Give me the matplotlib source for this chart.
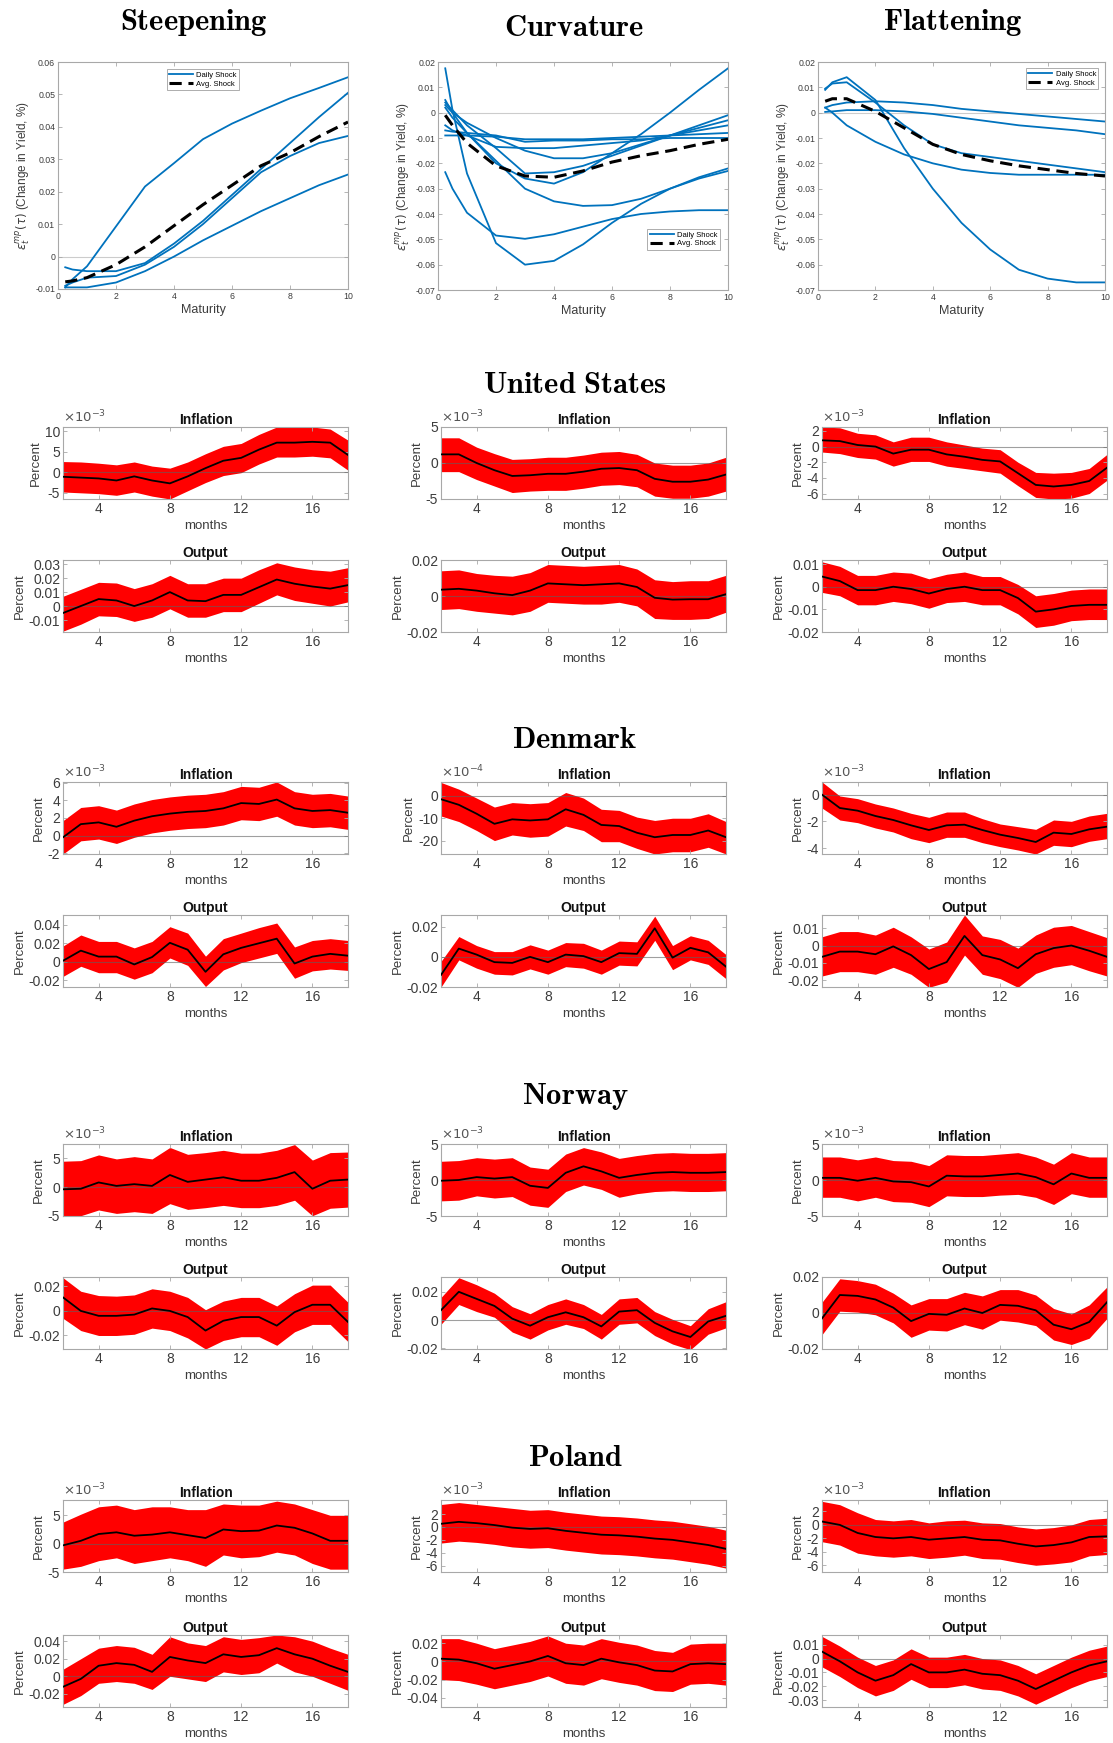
import numpy as np
import matplotlib.pyplot as plt
from matplotlib.ticker import FuncFormatter

plt.rcParams['font.family'] = ['Liberation Sans', 'DejaVu Sans']

W, H = 1113, 1743

# ---------------- yield curve shocks ----------------
maturity = [0.25, 0.5, 1, 2, 3, 4, 5, 6, 7, 8, 9, 10]

steep_daily = [
    [-0.0095, -0.007, -0.003, 0.0093, 0.0216, 0.0288, 0.0362, 0.041, 0.045, 0.0488, 0.052, 0.0553],
    [-0.0033, -0.004, -0.0045, -0.0045, -0.002, 0.004, 0.011, 0.019, 0.027, 0.035, 0.043, 0.0505],
    [-0.009, -0.008, -0.0065, -0.006, -0.0025, 0.003, 0.010, 0.018, 0.026, 0.031, 0.035, 0.0372],
    [-0.0095, -0.0095, -0.0095, -0.008, -0.0045, 0.0, 0.005, 0.0095, 0.014, 0.018, 0.022, 0.0253],
]
steep_avg = [-0.0078, -0.0075, -0.0065, -0.0025, 0.003, 0.0095, 0.016, 0.022, 0.028, 0.032, 0.037, 0.0415]

curv_daily = [
    [0.0175, 0.001, -0.024, -0.0515, -0.060, -0.0585, -0.052, -0.0435, -0.036, -0.030, -0.0255, -0.022],
    [-0.0235, -0.030, -0.0395, -0.0485, -0.0498, -0.048, -0.045, -0.042, -0.040, -0.039, -0.0385, -0.0385],
    [0.005, 0.0, -0.008, -0.020, -0.026, -0.028, -0.0235, -0.016, -0.0085, 0.0, 0.009, 0.0175],
    [0.002, -0.002, -0.008, -0.019, -0.030, -0.035, -0.0368, -0.0365, -0.034, -0.030, -0.026, -0.023],
    [0.004, 0.001, -0.005, -0.014, -0.024, -0.0235, -0.021, -0.017, -0.013, -0.009, -0.006, -0.003],
    [0.003, 0.0, -0.004, -0.010, -0.015, -0.018, -0.018, -0.016, -0.0125, -0.009, -0.005, -0.001],
    [-0.005, -0.007, -0.009, -0.0135, -0.014, -0.014, -0.013, -0.012, -0.011, -0.009, -0.007, -0.005],
    [-0.009, -0.009, -0.009, -0.0095, -0.0105, -0.0105, -0.0105, -0.010, -0.0095, -0.009, -0.0085, -0.008],
    [-0.007, -0.0075, -0.008, -0.009, -0.0115, -0.011, -0.011, -0.0105, -0.0105, -0.010, -0.010, -0.010],
]
curv_avg = [-0.001, -0.005, -0.012, -0.021, -0.025, -0.0255, -0.023, -0.0195, -0.017, -0.015, -0.0125, -0.0105]

flat_daily = [
    [0.009, 0.012, 0.014, 0.005, -0.014, -0.030, -0.0435, -0.054, -0.062, -0.0655, -0.067, -0.067],
    [0.0095, 0.0115, 0.012, 0.004, -0.005, -0.0125, -0.016, -0.0175, -0.019, -0.0205, -0.022, -0.0235],
    [0.002, 0.0, -0.005, -0.0115, -0.0165, -0.020, -0.0225, -0.0238, -0.0245, -0.0245, -0.0245, -0.0245],
    [0.002, 0.003, 0.004, 0.0045, 0.004, 0.003, 0.0015, 0.0005, -0.0005, -0.0015, -0.0025, -0.0035],
    [0.0003, 0.0005, 0.001, 0.001, 0.0005, -0.0005, -0.002, -0.0035, -0.005, -0.006, -0.007, -0.0085],
]
flat_avg = [0.0045, 0.0055, 0.0055, 0.0005, -0.006, -0.0125, -0.0165, -0.019, -0.021, -0.0225, -0.024, -0.025]

# ---------------- impulse responses (months 2..18) ----------------
months = np.arange(2, 19)

# United States
us_steep_inf_med = np.array([-1.1, -1.3, -1.5, -2.0, -1.0, -2.0, -2.7, -1.0, 1.0, 2.8, 3.5, 5.5, 7.2, 7.2, 7.4, 7.2, 4.2]) * 1e-3
us_steep_inf_hi = np.array([2.6, 2.5, 2.2, 1.8, 2.5, 1.5, 1.0, 2.5, 4.5, 6.3, 7.0, 9.2, 11.0, 11.0, 11.0, 10.5, 7.8]) * 1e-3
us_steep_inf_lo = np.array([-4.8, -5.0, -5.2, -5.6, -4.8, -5.8, -6.5, -4.5, -2.5, -0.8, -0.1, 2.0, 3.7, 3.7, 3.9, 3.5, 0.5]) * 1e-3
us_steep_out_med = [-0.005, 0.0, 0.005, 0.004, 0.0, 0.004, 0.010, 0.004, 0.0035, 0.008, 0.008, 0.0135, 0.019, 0.016, 0.014, 0.0125, 0.015]
us_steep_out_hi = [0.007, 0.012, 0.017, 0.0165, 0.0125, 0.016, 0.022, 0.016, 0.016, 0.020, 0.020, 0.026, 0.031, 0.028, 0.026, 0.025, 0.0275]
us_steep_out_lo = [-0.018, -0.013, -0.007, -0.0075, -0.011, -0.008, -0.002, -0.008, -0.008, -0.004, -0.004, 0.002, 0.008, 0.004, 0.002, 0.0, 0.003]

us_curv_inf_med = np.array([1.2, 1.2, 0.0, -1.0, -1.8, -1.7, -1.5, -1.5, -1.2, -0.8, -0.7, -1.0, -2.2, -2.6, -2.6, -2.3, -1.6]) * 1e-3
us_curv_inf_hi = np.array([3.5, 3.5, 2.2, 1.3, 0.5, 0.6, 0.8, 0.8, 1.1, 1.5, 1.6, 1.2, 0.0, -0.3, -0.3, 0.0, 0.8]) * 1e-3
us_curv_inf_lo = np.array([-1.2, -1.2, -2.3, -3.2, -4.1, -3.9, -3.8, -3.8, -3.5, -3.1, -3.0, -3.3, -4.6, -4.9, -4.9, -4.6, -3.9]) * 1e-3
us_curv_out_med = [0.0035, 0.004, 0.003, 0.0015, 0.0005, 0.003, 0.007, 0.0065, 0.006, 0.0065, 0.007, 0.005, -0.001, -0.002, -0.0018, -0.0018, 0.001]
us_curv_out_hi = [0.014, 0.0145, 0.0125, 0.0115, 0.011, 0.013, 0.0175, 0.017, 0.0165, 0.017, 0.0175, 0.015, 0.009, 0.008, 0.0085, 0.0085, 0.0115]
us_curv_out_lo = [-0.0075, -0.007, -0.0085, -0.0095, -0.0105, -0.0085, -0.0035, -0.004, -0.0045, -0.0045, -0.0035, -0.0055, -0.0125, -0.013, -0.013, -0.0125, -0.009]

us_flat_inf_med = np.array([0.8, 0.7, 0.2, 0.0, -0.9, -0.4, -0.4, -1.0, -1.3, -1.7, -1.9, -3.4, -4.9, -5.1, -4.9, -4.4, -2.7]) * 1e-3
us_flat_inf_hi = np.array([2.5, 2.4, 1.7, 1.5, 0.6, 1.2, 1.2, 0.6, 0.2, -0.2, -0.4, -2.0, -3.3, -3.4, -3.3, -2.8, -1.0]) * 1e-3
us_flat_inf_lo = np.array([-0.7, -0.9, -1.4, -1.6, -2.5, -1.9, -1.9, -2.5, -2.8, -3.1, -3.4, -5.0, -6.5, -6.7, -6.6, -6.0, -4.3]) * 1e-3
us_flat_out_med = [0.0045, 0.0025, -0.0015, -0.0015, 0.0, -0.001, -0.003, -0.001, 0.0, -0.0015, -0.0015, -0.005, -0.011, -0.010, -0.0085, -0.008, -0.008]
us_flat_out_hi = [0.011, 0.009, 0.005, 0.005, 0.0065, 0.006, 0.0035, 0.0055, 0.0065, 0.0045, 0.0045, 0.001, -0.004, -0.003, -0.0015, -0.001, -0.001]
us_flat_out_lo = [-0.0025, -0.004, -0.008, -0.008, -0.0065, -0.0075, -0.0095, -0.007, -0.0065, -0.008, -0.008, -0.012, -0.018, -0.017, -0.015, -0.0145, -0.0145]

# Denmark
dk_steep_inf_med = np.array([-0.2, 1.3, 1.5, 1.0, 1.7, 2.2, 2.5, 2.7, 2.8, 3.1, 3.7, 3.6, 4.1, 3.1, 2.8, 2.9, 2.6]) * 1e-3
dk_steep_inf_hi = np.array([1.7, 3.2, 3.4, 2.9, 3.6, 4.1, 4.4, 4.6, 4.7, 5.0, 5.6, 5.5, 6.1, 5.0, 4.7, 4.8, 4.5]) * 1e-3
dk_steep_inf_lo = np.array([-2.1, -0.6, -0.4, -0.9, -0.2, 0.3, 0.6, 0.8, 0.9, 1.2, 1.8, 1.7, 2.2, 1.2, 0.9, 1.0, 0.7]) * 1e-3
dk_steep_out_med = [0.001, 0.012, 0.0055, 0.0055, -0.003, 0.005, 0.0205, 0.013, -0.011, 0.008, 0.015, 0.020, 0.025, -0.002, 0.0055, 0.0085, 0.0065]
dk_steep_out_hi = [0.017, 0.029, 0.022, 0.022, 0.015, 0.022, 0.038, 0.031, 0.006, 0.025, 0.031, 0.037, 0.042, 0.016, 0.023, 0.025, 0.023]
dk_steep_out_lo = [-0.016, -0.005, -0.012, -0.012, -0.019, -0.012, 0.004, -0.004, -0.027, -0.009, -0.001, 0.004, 0.009, -0.018, -0.010, -0.008, -0.0095]

dk_curv_inf_med = np.array([-1.5, -4.0, -8.0, -12.5, -10.5, -11.0, -10.5, -6.0, -8.5, -13.0, -13.5, -16.5, -18.5, -17.5, -17.5, -15.5, -18.5]) * 1e-4
dk_curv_inf_hi = np.array([6.0, 3.0, -1.0, -5.0, -3.0, -3.5, -3.0, 1.5, -1.0, -6.0, -6.5, -9.5, -11.0, -10.0, -10.0, -8.0, -11.5]) * 1e-4
dk_curv_inf_lo = np.array([-9.0, -11.5, -15.5, -20.0, -17.5, -18.5, -18.0, -13.5, -15.5, -20.5, -20.5, -23.5, -26.0, -25.0, -25.0, -23.0, -26.0]) * 1e-4
dk_curv_out_med = [-0.012, 0.0055, 0.0015, -0.0035, -0.004, 0.0, -0.0035, 0.0015, 0.0005, -0.0035, 0.0025, 0.002, 0.019, -0.0005, 0.006, 0.003, -0.0065]
dk_curv_out_hi = [-0.003, 0.0135, 0.0075, 0.0035, 0.0035, 0.008, 0.0045, 0.0095, 0.009, 0.0045, 0.0105, 0.010, 0.027, 0.0075, 0.014, 0.011, 0.0015]
dk_curv_out_lo = [-0.020, -0.002, -0.0075, -0.0115, -0.012, -0.008, -0.0115, -0.0065, -0.0075, -0.0115, -0.0055, -0.006, 0.011, -0.0085, -0.002, -0.005, -0.0145]

dk_flat_inf_med = np.array([0.0, -1.0, -1.2, -1.6, -1.9, -2.3, -2.65, -2.3, -2.25, -2.65, -3.0, -3.25, -3.55, -2.85, -2.95, -2.6, -2.4]) * 1e-3
dk_flat_inf_hi = np.array([0.95, -0.1, -0.3, -0.7, -1.0, -1.4, -1.7, -1.3, -1.3, -1.8, -2.2, -2.4, -2.6, -1.9, -2.0, -1.6, -1.4]) * 1e-3
dk_flat_inf_lo = np.array([-1.0, -1.9, -2.1, -2.5, -2.8, -3.3, -3.6, -3.2, -3.2, -3.6, -3.9, -4.15, -4.45, -3.8, -3.9, -3.5, -3.3]) * 1e-3
dk_flat_out_med = [-0.0065, -0.0035, -0.0035, -0.005, -0.0005, -0.0055, -0.0135, -0.0095, 0.0055, -0.0055, -0.008, -0.013, -0.005, -0.0015, 0.0, -0.003, -0.0065]
dk_flat_out_hi = [0.005, 0.008, 0.008, 0.006, 0.0105, 0.005, -0.002, 0.002, 0.0175, 0.0055, 0.0035, -0.0015, 0.006, 0.0105, 0.0115, 0.008, 0.0045]
dk_flat_out_lo = [-0.0175, -0.015, -0.015, -0.0165, -0.0125, -0.0165, -0.024, -0.021, -0.0055, -0.0165, -0.019, -0.024, -0.016, -0.0125, -0.011, -0.0145, -0.0175]

# Norway
no_steep_inf_med = np.array([-0.4, -0.3, 0.8, 0.2, 0.5, 0.2, 2.1, 0.9, 1.3, 1.7, 1.1, 1.1, 1.6, 2.6, -0.3, 1.1, 1.3]) * 1e-3
no_steep_inf_hi = np.array([4.5, 4.6, 5.6, 4.9, 5.3, 4.9, 6.9, 5.7, 6.0, 6.4, 5.9, 5.9, 6.4, 7.4, 4.7, 6.0, 6.1]) * 1e-3
no_steep_inf_lo = np.array([-5.0, -5.0, -4.0, -4.6, -4.3, -4.6, -2.9, -3.9, -3.6, -3.2, -3.6, -3.6, -3.2, -2.3, -5.0, -3.7, -3.5]) * 1e-3
no_steep_out_med = [0.011, 0.0, -0.004, -0.004, -0.003, 0.002, 0.0, -0.005, -0.016, -0.008, -0.005, -0.005, -0.012, -0.001, 0.005, 0.005, -0.009]
no_steep_out_hi = [0.027, 0.016, 0.0125, 0.012, 0.013, 0.018, 0.016, 0.011, 0.001, 0.008, 0.011, 0.011, 0.004, 0.014, 0.021, 0.021, 0.007]
no_steep_out_lo = [-0.006, -0.016, -0.020, -0.020, -0.019, -0.014, -0.016, -0.022, -0.031, -0.024, -0.021, -0.021, -0.028, -0.017, -0.011, -0.011, -0.025]

no_curv_inf_med = np.array([-0.1, 0.0, 0.4, 0.2, 0.4, -0.8, -1.1, 1.0, 1.9, 1.2, 0.3, 0.7, 1.0, 1.1, 1.0, 1.0, 1.1]) * 1e-3
no_curv_inf_hi = np.array([2.6, 2.7, 3.1, 2.9, 3.1, 1.8, 1.5, 3.6, 4.5, 3.9, 3.0, 3.4, 3.7, 3.8, 3.7, 3.7, 3.8]) * 1e-3
no_curv_inf_lo = np.array([-2.9, -2.8, -2.2, -2.5, -2.3, -3.5, -3.8, -1.6, -0.7, -1.3, -2.4, -1.9, -1.6, -1.5, -1.6, -1.6, -1.5]) * 1e-3
no_curv_out_med = [0.007, 0.020, 0.015, 0.010, 0.001, -0.004, 0.002, 0.0055, 0.002, -0.0045, 0.006, 0.007, -0.002, -0.008, -0.012, -0.001, 0.003]
no_curv_out_hi = [0.016, 0.030, 0.025, 0.019, 0.0095, 0.0045, 0.011, 0.015, 0.011, 0.004, 0.015, 0.016, 0.006, 0.0005, -0.004, 0.008, 0.013]
no_curv_out_lo = [-0.003, 0.011, 0.006, 0.002, -0.0085, -0.0135, -0.007, -0.003, -0.006, -0.0135, -0.003, -0.002, -0.011, -0.017, -0.021, -0.010, -0.0055]

no_flat_inf_med = np.array([0.3, 0.3, -0.1, 0.3, -0.2, -0.3, -0.9, 0.6, 0.5, 0.5, 0.7, 0.9, 0.4, -0.6, 0.9, 0.3, 0.3]) * 1e-3
no_flat_inf_hi = np.array([3.2, 3.2, 2.8, 3.2, 2.7, 2.6, 2.0, 3.5, 3.4, 3.4, 3.6, 3.8, 3.2, 2.2, 3.8, 3.2, 3.2]) * 1e-3
no_flat_inf_lo = np.array([-2.4, -2.4, -2.9, -2.4, -3.0, -3.1, -3.7, -2.2, -2.3, -2.3, -2.1, -2.0, -2.4, -3.4, -1.9, -2.4, -2.4]) * 1e-3
no_flat_out_med = [-0.003, 0.010, 0.0095, 0.0075, 0.003, -0.0045, -0.0005, -0.001, 0.0025, 0.0, 0.0045, 0.004, 0.0015, -0.0065, -0.009, -0.005, 0.006]
no_flat_out_hi = [0.006, 0.019, 0.018, 0.016, 0.011, 0.0045, 0.008, 0.008, 0.0115, 0.0095, 0.013, 0.013, 0.010, 0.0025, -0.0005, 0.0045, 0.0145]
no_flat_out_lo = [-0.012, 0.001, 0.0005, -0.001, -0.0055, -0.0135, -0.0095, -0.010, -0.0065, -0.009, -0.004, -0.005, -0.007, -0.015, -0.0175, -0.014, -0.003]

# Poland
pl_steep_inf_med = np.array([-0.3, 0.5, 1.7, 2.0, 1.4, 1.6, 2.0, 1.5, 1.0, 2.5, 2.2, 2.3, 3.2, 2.8, 1.8, 0.5, 0.5]) * 1e-3
pl_steep_inf_hi = np.array([3.8, 5.2, 6.5, 6.8, 6.0, 6.5, 6.5, 6.0, 6.0, 7.0, 6.8, 6.8, 7.5, 7.0, 6.0, 5.0, 5.0]) * 1e-3
pl_steep_inf_lo = np.array([-4.5, -4.0, -3.0, -2.5, -3.5, -3.0, -2.5, -3.0, -4.0, -2.0, -2.5, -2.3, -1.5, -2.0, -3.5, -4.5, -4.5]) * 1e-3
pl_steep_out_med = [-0.012, -0.003, 0.012, 0.015, 0.013, 0.005, 0.022, 0.018, 0.015, 0.025, 0.022, 0.024, 0.032, 0.025, 0.020, 0.012, 0.005]
pl_steep_out_hi = [0.008, 0.020, 0.032, 0.035, 0.033, 0.025, 0.045, 0.038, 0.035, 0.045, 0.042, 0.044, 0.047, 0.045, 0.040, 0.032, 0.025]
pl_steep_out_lo = [-0.032, -0.022, -0.008, -0.006, -0.008, -0.015, 0.0, -0.003, -0.006, 0.005, 0.002, 0.004, 0.015, 0.005, 0.0, -0.008, -0.016]

pl_curv_inf_med = np.array([0.5, 0.8, 0.6, 0.3, -0.1, -0.3, -0.2, -0.6, -0.9, -1.2, -1.3, -1.5, -1.8, -2.0, -2.4, -2.8, -3.4]) * 1e-3
pl_curv_inf_hi = np.array([3.5, 3.8, 3.5, 3.2, 2.9, 2.6, 2.7, 2.3, 2.0, 1.7, 1.6, 1.4, 1.1, 0.9, 0.5, 0.1, -0.5]) * 1e-3
pl_curv_inf_lo = np.array([-2.5, -2.2, -2.4, -2.7, -3.1, -3.3, -3.2, -3.6, -3.9, -4.2, -4.3, -4.5, -4.8, -5.0, -5.4, -5.8, -6.4]) * 1e-3
pl_curv_out_med = [0.003, 0.002, -0.002, -0.008, -0.004, 0.0, 0.006, -0.002, -0.004, 0.003, -0.001, -0.004, -0.010, -0.011, -0.003, -0.002, -0.003]
pl_curv_out_hi = [0.025, 0.025, 0.020, 0.014, 0.018, 0.022, 0.028, 0.020, 0.018, 0.025, 0.021, 0.018, 0.012, 0.010, 0.019, 0.020, 0.020]
pl_curv_out_lo = [-0.020, -0.021, -0.025, -0.030, -0.026, -0.022, -0.016, -0.024, -0.026, -0.019, -0.023, -0.026, -0.032, -0.033, -0.025, -0.024, -0.026]

pl_flat_inf_med = np.array([0.5, 0.0, -1.2, -1.8, -2.0, -1.8, -2.2, -2.0, -1.8, -2.2, -2.3, -2.8, -3.2, -3.0, -2.6, -1.8, -1.7]) * 1e-3
pl_flat_inf_hi = np.array([3.5, 3.0, 1.8, 0.8, 0.6, 0.8, 0.3, 0.6, 0.7, 0.3, 0.2, -0.3, -0.6, -0.4, 0.0, 0.8, 1.0]) * 1e-3
pl_flat_inf_lo = np.array([-2.5, -3.0, -4.2, -4.6, -4.8, -4.6, -5.0, -4.8, -4.5, -5.0, -5.1, -5.6, -6.0, -5.8, -5.5, -4.6, -4.4]) * 1e-3
pl_flat_out_med = [0.005, -0.002, -0.010, -0.016, -0.012, -0.004, -0.010, -0.010, -0.008, -0.011, -0.012, -0.016, -0.022, -0.016, -0.010, -0.005, -0.002]
pl_flat_out_hi = [0.016, 0.009, 0.001, -0.005, -0.001, 0.007, 0.001, 0.001, 0.003, 0.0, -0.001, -0.005, -0.011, -0.005, 0.001, 0.006, 0.009]
pl_flat_out_lo = [-0.006, -0.013, -0.021, -0.027, -0.023, -0.015, -0.021, -0.021, -0.019, -0.022, -0.023, -0.027, -0.033, -0.027, -0.021, -0.016, -0.013]

# axis limits and tick values, one entry per shock column
us_inf_ylim = [(-6.5e-3, 11e-3), (-5e-3, 5e-3), (-6.7e-3, 2.5e-3)]
us_inf_ticks = [[-5e-3, 0, 5e-3, 10e-3], [-5e-3, 0, 5e-3], [-6e-3, -4e-3, -2e-3, 0, 2e-3]]
us_out_ylim = [(-0.0186, 0.033), (-0.02, 0.02), (-0.02, 0.0118)]
us_out_ticks = [[-0.01, 0, 0.01, 0.02, 0.03], [-0.02, 0, 0.02], [-0.02, -0.01, 0, 0.01]]

dk_inf_ylim = [(-2.1e-3, 6.1e-3), (-26e-4, 6.2e-4), (-4.45e-3, 0.95e-3)]
dk_inf_ticks = [[-2e-3, 0, 2e-3, 4e-3, 6e-3], [-20e-4, -10e-4, 0], [-4e-3, -2e-3, 0]]
dk_out_ylim = [(-0.0275, 0.0507), (-0.0196, 0.0278), (-0.0238, 0.0175)]
dk_out_ticks = [[-0.02, 0, 0.02, 0.04], [-0.02, 0, 0.02], [-0.02, -0.01, 0, 0.01]]

no_inf_ylim = [(-5.05e-3, 7.5e-3), (-5e-3, 5e-3), (-5e-3, 5e-3)]
no_inf_ticks = [[-5e-3, 0, 5e-3], [-5e-3, 0, 5e-3], [-5e-3, 0, 5e-3]]
no_out_ylim = [(-0.031, 0.0276), (-0.0205, 0.0305), (-0.02, 0.02)]
no_out_ticks = [[-0.02, 0, 0.02], [-0.02, 0, 0.02], [-0.02, 0, 0.02]]

pl_inf_ylim = [(-5e-3, 7.7e-3), (-7e-3, 4.2e-3), (-7e-3, 3.7e-3)]
pl_inf_ticks = [[-5e-3, 0, 5e-3], [-6e-3, -4e-3, -2e-3, 0, 2e-3], [-6e-3, -4e-3, -2e-3, 0, 2e-3]]
pl_out_ylim = [(-0.035, 0.047), (-0.05, 0.029), (-0.035, 0.017)]
pl_out_ticks = [[-0.02, 0, 0.02, 0.04], [-0.04, -0.02, 0, 0.02], [-0.03, -0.02, -0.01, 0, 0.01]]

inf_exp = {'us': [-3, -3, -3], 'dk': [-3, -4, -3], 'no': [-3, -3, -3], 'pl': [-3, -3, -3]}

BLUE = '#0072BD'
SPINE = '#a8a8a8'
TXT = '#3c3c3c'


def add_px_axes(fig, x0, y0, x1, y1):
    return fig.add_axes([x0 / W, 1 - y1 / H, (x1 - x0) / W, (y1 - y0) / H])


def matlab_box(ax, size):
    for s in ax.spines.values():
        s.set_color(SPINE)
        s.set_linewidth(0.8)
    ax.tick_params(direction='in', top=True, right=True, length=3, width=0.6,
                   color=SPINE, labelcolor=TXT, labelsize=size, pad=2)


def num_label(scale=1.0):
    return FuncFormatter(lambda v, p: f'{round(v / scale, 6):g}')


def curve_panel(ax, daily, avg, ylim, yticks, loc, anchor):
    ax.axhline(0, color='#cccccc', lw=0.8, zorder=1)
    for k, y in enumerate(daily):
        ax.plot(maturity, y, color=BLUE, lw=1.3, zorder=2,
                label='Daily Shock' if k == 0 else None)
    ax.plot(maturity, avg, color='black', lw=2.2, dashes=(4, 2.2), zorder=3,
            label='Avg. Shock')
    ax.set_xlim(0, 10)
    ax.set_xticks([0, 2, 4, 6, 8, 10])
    ax.set_ylim(ylim)
    ax.set_yticks(yticks)
    ax.yaxis.set_major_formatter(num_label())
    matlab_box(ax, 6.3)
    ax.set_xlabel('Maturity', fontsize=9, color=TXT, labelpad=2)
    ax.set_ylabel(r'$\epsilon_t^{mp}(\tau)$ (Change in Yield, %)', fontsize=8.5,
                  color=TXT, labelpad=2)
    leg = ax.legend(loc=loc, bbox_to_anchor=anchor, fontsize=5.5, frameon=True,
                    fancybox=False, handlelength=3.2, borderpad=0.3,
                    labelspacing=0.2, handletextpad=0.4)
    leg.get_frame().set_edgecolor('#888888')
    leg.get_frame().set_linewidth(0.6)


def irf_panel(ax, lo, med, hi, ylim, yticks, title, exp=None):
    ax.fill_between(months, lo, hi, color='#ff0000', lw=0, zorder=1)
    ax.axhline(0, color='#606060', lw=0.8, alpha=0.6, zorder=2)
    ax.plot(months, med, color='black', lw=1.3, zorder=3)
    ax.set_xlim(2, 18)
    ax.set_xticks([4, 8, 12, 16])
    ax.set_ylim(ylim)
    ax.set_yticks(yticks)
    scale = 10.0 ** exp if exp else 1.0
    ax.yaxis.set_major_formatter(num_label(scale))
    matlab_box(ax, 10)
    ax.set_title(title, fontsize=10, fontweight='bold', color='#111111', pad=2)
    ax.set_xlabel('months', fontsize=9.5, color=TXT, labelpad=3)
    ax.set_ylabel('Percent', fontsize=9.5, color=TXT, labelpad=2)
    if exp:
        ax.text(0.0, 1.03, r'$\times10^{%d}$' % exp, transform=ax.transAxes,
                fontsize=9.5, color='#555555', ha='left', va='bottom')


fig = plt.figure(figsize=(W / 100, H / 100), dpi=100)

# top row: shape of the yield curve shocks
top_cols = [(58, 348), (438, 728), (818, 1105)]
ax = add_px_axes(fig, top_cols[0][0], 62, top_cols[0][1], 289)
curve_panel(ax, steep_daily, steep_avg, (-0.01, 0.06),
            np.arange(-0.01, 0.061, 0.01), 'upper center', (0.5, 0.985))
ax = add_px_axes(fig, top_cols[1][0], 62, top_cols[1][1], 290)
curve_panel(ax, curv_daily, curv_avg, (-0.07, 0.02),
            np.arange(-0.07, 0.021, 0.01), 'lower right', (0.985, 0.16))
ax = add_px_axes(fig, top_cols[2][0], 62, top_cols[2][1], 290)
curve_panel(ax, flat_daily, flat_avg, (-0.07, 0.02),
            np.arange(-0.07, 0.021, 0.01), 'upper right', (0.99, 0.99))

title_kw = dict(fontsize=22, ha='center', va='center', math_fontfamily='cm')
fig.text(194 / W, 1 - 22 / H, r'$\mathbf{Steepening}$', **title_kw)
fig.text(574 / W, 1 - 28 / H, r'$\mathbf{Curvature}$', **title_kw)
fig.text(953 / W, 1 - 22 / H, r'$\mathbf{Flattening}$', **title_kw)

# country blocks: inflation and output responses to each shock
irf_cols = [(63, 348), (441, 726), (822, 1107)]
countries = [
    ('United States', 385, 427, 560, 'us',
     [(us_steep_inf_lo, us_steep_inf_med, us_steep_inf_hi),
      (us_curv_inf_lo, us_curv_inf_med, us_curv_inf_hi),
      (us_flat_inf_lo, us_flat_inf_med, us_flat_inf_hi)],
     [(us_steep_out_lo, us_steep_out_med, us_steep_out_hi),
      (us_curv_out_lo, us_curv_out_med, us_curv_out_hi),
      (us_flat_out_lo, us_flat_out_med, us_flat_out_hi)],
     us_inf_ylim, us_inf_ticks, us_out_ylim, us_out_ticks),
    ('Denmark', 740, 782, 915, 'dk',
     [(dk_steep_inf_lo, dk_steep_inf_med, dk_steep_inf_hi),
      (dk_curv_inf_lo, dk_curv_inf_med, dk_curv_inf_hi),
      (dk_flat_inf_lo, dk_flat_inf_med, dk_flat_inf_hi)],
     [(dk_steep_out_lo, dk_steep_out_med, dk_steep_out_hi),
      (dk_curv_out_lo, dk_curv_out_med, dk_curv_out_hi),
      (dk_flat_out_lo, dk_flat_out_med, dk_flat_out_hi)],
     dk_inf_ylim, dk_inf_ticks, dk_out_ylim, dk_out_ticks),
    ('Norway', 1097, 1144, 1277, 'no',
     [(no_steep_inf_lo, no_steep_inf_med, no_steep_inf_hi),
      (no_curv_inf_lo, no_curv_inf_med, no_curv_inf_hi),
      (no_flat_inf_lo, no_flat_inf_med, no_flat_inf_hi)],
     [(no_steep_out_lo, no_steep_out_med, no_steep_out_hi),
      (no_curv_out_lo, no_curv_out_med, no_curv_out_hi),
      (no_flat_out_lo, no_flat_out_med, no_flat_out_hi)],
     no_inf_ylim, no_inf_ticks, no_out_ylim, no_out_ticks),
    ('Poland', 1458, 1500, 1635, 'pl',
     [(pl_steep_inf_lo, pl_steep_inf_med, pl_steep_inf_hi),
      (pl_curv_inf_lo, pl_curv_inf_med, pl_curv_inf_hi),
      (pl_flat_inf_lo, pl_flat_inf_med, pl_flat_inf_hi)],
     [(pl_steep_out_lo, pl_steep_out_med, pl_steep_out_hi),
      (pl_curv_out_lo, pl_curv_out_med, pl_curv_out_hi),
      (pl_flat_out_lo, pl_flat_out_med, pl_flat_out_hi)],
     pl_inf_ylim, pl_inf_ticks, pl_out_ylim, pl_out_ticks),
]

for name, ty, inf_top, out_top, key, infl, outp, iyl, itk, oyl, otk in countries:
    label = r'$\mathbf{' + name.replace(' ', r'\ ') + '}$'
    fig.text(575 / W, 1 - ty / H, label, **title_kw)
    for j, (x0, x1) in enumerate(irf_cols):
        ax = add_px_axes(fig, x0, inf_top, x1, inf_top + 72)
        lo, med, hi = infl[j]
        irf_panel(ax, lo, med, hi, iyl[j], itk[j], 'Inflation', inf_exp[key][j])
        ax = add_px_axes(fig, x0, out_top, x1, out_top + 72)
        lo, med, hi = outp[j]
        irf_panel(ax, lo, med, hi, oyl[j], otk[j], 'Output')

fig.savefig('out.png', dpi=100, facecolor='white')
